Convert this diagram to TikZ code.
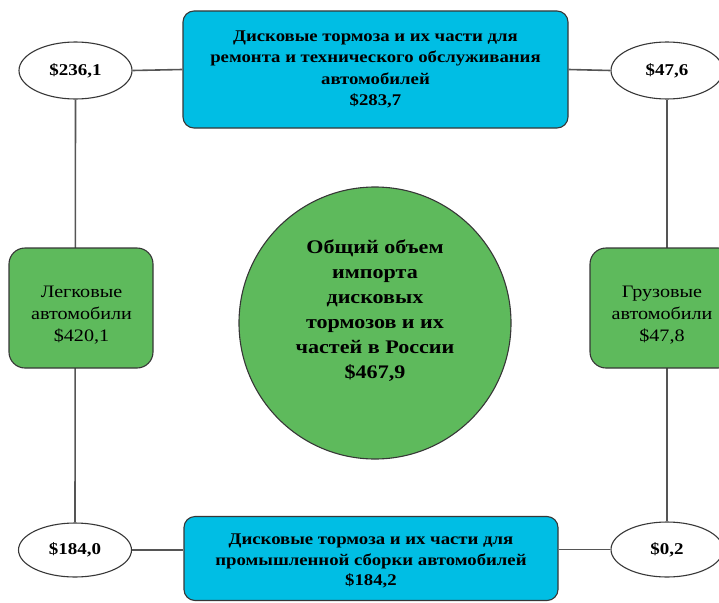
\documentclass[tikz,border=0pt]{standalone}
\usepackage{fontspec}
\setmainfont{Liberation Serif}[FakeStretch=1.15]
\usetikzlibrary{shapes.geometric}
\definecolor{boxblue}{RGB}{0,190,228}
\definecolor{boxgreen}{RGB}{94,186,92}
\definecolor{edgegray}{RGB}{55,55,55}
\definecolor{linegray}{RGB}{85,85,85}
\begin{document}
\begin{tikzpicture}[x=1pt,y=-1pt,
  bluebox/.style={draw=edgegray, line width=1.1pt, fill=boxblue, rounded corners=11pt, inner sep=0pt, align=center,
    font=\fontsize{16.3}{21.5}\selectfont\bfseries},
  bluetext/.style={align=center, inner sep=0pt, font=\fontsize{16.3}{20.5}\selectfont\bfseries},
  greenbox/.style={draw=edgegray, line width=1.1pt, fill=boxgreen, rounded corners=16pt, inner sep=0pt,
    minimum width=144pt, minimum height=120pt},
  greentext/.style={align=center, inner sep=0pt, font=\fontsize{17.5}{22}\selectfont},
  valell/.style={ellipse, draw=edgegray, line width=1.1pt, fill=white, inner sep=0pt, minimum width=113pt,
    font=\fontsize{16.5}{18}\selectfont\bfseries},
  bigcirc/.style={circle, draw=edgegray, line width=1.1pt, fill=boxgreen, minimum size=272pt, inner sep=0pt},
  circtext/.style={align=center, inner sep=0pt, font=\fontsize{19.2}{25}\selectfont\bfseries},
  conn/.style={draw=linegray, line width=1.6pt}]
\useasboundingbox (0,0) rectangle (719,602);
\clip (0,0) rectangle (719,602);

% ellipses
\node[valell, minimum height=57pt] (e1) at (75.5,70.5) {\$236,1};
\node[valell, minimum height=57pt, minimum width=112pt] (e2) at (667,70.5) {\$47,6};
\node[valell, minimum height=54pt] (e3) at (75,550) {\$184,0};
\node[valell, minimum height=55pt, minimum width=112pt] (e4) at (667,549.5) {\$0,2};

% connectors
\draw[conn] (e1.south) -- (e3.north);
\draw[conn] (e2.south) -- (e4.north);

% boxes
\node[bluebox, minimum width=385pt, minimum height=117pt] (b1) at (375.5,69.5)
  {Дисковые тормоза и их части для\\ремонта и технического обслуживания\\автомобилей\\\$283,7};
\node[bluebox, minimum width=374pt, minimum height=84pt] (b2) at (371,558.5) {};
\node[bluetext] (b2t) at (371,561) {Дисковые тормоза и их части для\\промышленной сборки автомобилей\\\$184,2};
\node[greenbox] (g1) at (81,308) {};
\node[greentext] (g1t) at (81.5,315.5) {Легковые\\автомобили\\\$420,1};
\node[greenbox] (g2) at (662,308) {};
\node[greentext] (g2t) at (662,315.5) {Грузовые\\автомобили\\\$47,8};

\draw[conn] (e1.east) -- (b1.west);
\draw[conn] (b1.east) -- (e2.west);
\draw[conn] (e3.east) -- (e3.east -| b2.west);
\draw[conn] (e4.west -| b2.east) -- (e4.west);

% central circle
\node[bigcirc] (c) at (375,323) {};
\node[circtext] (ct) at (375,311) {Общий объем\\импорта\\дисковых\\тормозов и их\\частей в России\\\$467,9};
\end{tikzpicture}
\end{document}
